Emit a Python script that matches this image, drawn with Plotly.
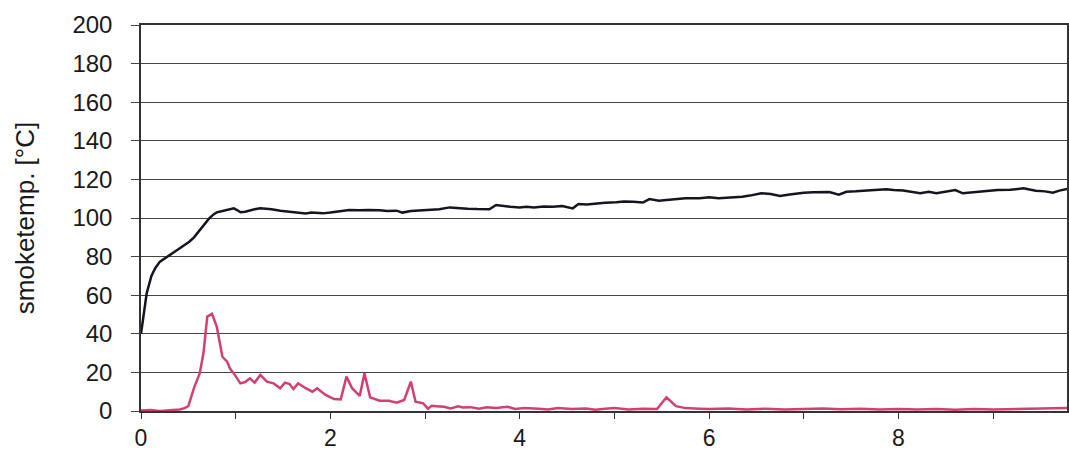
import plotly.graph_objects as go

# time axis values (x) and smoke temperatures for the two curves
black_x = [0, 0.03, 0.06, 0.11, 0.15, 0.2, 0.25, 0.30, 0.35, 0.41,
           0.46, 0.51, 0.56, 0.62, 0.67, 0.72, 0.77, 0.80, 0.85, 0.90,
           0.94, 0.98, 1.02, 1.05, 1.10, 1.15, 1.20, 1.26, 1.32, 1.38,
           1.47, 1.55, 1.62, 1.68, 1.74, 1.80, 1.86, 1.92, 2.00, 2.06,
           2.12, 2.20, 2.30, 2.40, 2.52, 2.60, 2.70, 2.76, 2.85, 2.95,
           3.05, 3.15, 3.26, 3.35, 3.45, 3.55, 3.68, 3.75, 3.81, 3.90,
           4.00, 4.07, 4.15, 4.25, 4.35, 4.45, 4.56, 4.62, 4.71, 4.80,
           4.90, 5.02, 5.10, 5.20, 5.30, 5.37, 5.47, 5.55, 5.65, 5.75,
           5.90, 6.00, 6.10, 6.25, 6.35, 6.43, 6.55, 6.65, 6.75, 6.85,
           7.00, 7.10, 7.27, 7.37, 7.45, 7.55, 7.70, 7.87, 7.95, 8.05,
           8.23, 8.32, 8.40, 8.51, 8.60, 8.68, 8.80, 8.96, 9.05, 9.18,
           9.32, 9.45, 9.55, 9.63, 9.70, 9.78]
black_y = [40, 52, 61, 70, 74, 77.4, 79, 80.8, 82, 84.3,
           86, 87.7, 90, 93.8, 97, 99.8, 102, 102.9, 103.5, 104,
           104.5, 105, 104, 103, 103.2, 104, 104.5, 105, 104.8, 104.5,
           103.8, 103.5, 103, 102.8, 102.4, 102.8, 102.5, 102.4, 102.8, 103.2,
           103.9, 104.1, 104, 104.2, 104, 103.6, 103.8, 102.8, 103.6, 104,
           104.2, 104.5, 105.5, 105, 104.8, 104.6, 104.5, 106.7, 106.2, 105.8,
           105.5, 105.8, 105.5, 106, 105.8, 106.2, 105, 107.2, 107, 107.5,
           107.9, 108.2, 108.5, 108.4, 108, 109.8, 109, 109.3, 109.6, 110.2,
           110.2, 110.7, 110.2, 110.5, 111, 111.6, 112.8, 112.4, 111.4, 112.2,
           113.1, 113.3, 113.5, 112.1, 113.6, 113.8, 114.2, 114.9, 114.5, 114.2,
           112.8, 113.6, 112.8, 113.8, 114.5, 112.8, 113.5, 114.1, 114.5, 114.6,
           115.4, 114.1, 113.8, 113.1, 114.2, 115]

pink_x = [0, 0.1, 0.2, 0.3, 0.41, 0.46, 0.50, 0.56, 0.62, 0.66,
          0.70, 0.75, 0.80, 0.86, 0.91, 0.94, 0.98, 1.05, 1.10, 1.15,
          1.20, 1.26, 1.33, 1.40, 1.47, 1.52, 1.57, 1.61, 1.66, 1.74,
          1.81, 1.86, 1.95, 2.04, 2.11, 2.17, 2.23, 2.31, 2.36, 2.42,
          2.52, 2.62, 2.70, 2.78, 2.85, 2.90, 2.98, 3.03, 3.07, 3.12,
          3.2, 3.27, 3.35, 3.40, 3.48, 3.57, 3.65, 3.75, 3.87, 3.95,
          4.05, 4.2, 4.3, 4.4, 4.55, 4.7, 4.8, 4.9, 5.0, 5.15,
          5.3, 5.45, 5.55, 5.65, 5.75, 5.9, 6.0, 6.2, 6.4, 6.6,
          6.8, 7.0, 7.2, 7.4, 7.6, 7.8, 8.0, 8.2, 8.4, 8.6,
          8.8, 9.0, 9.2, 9.4, 9.6, 9.78]
pink_y = [0.3, 0.5, 0, 0.3, 0.8, 1.5, 2.5, 12, 19.5, 30,
          48.9, 50.3, 43.7, 28.1, 25.6, 22, 19.5, 14.3, 15, 16.9,
          14.7, 18.7, 15.2, 14.3, 11.8, 14.7, 14, 11.4, 14.3, 11.8,
          10, 11.8, 8.3, 6.2, 6, 17.8, 11.8, 7.8, 19.5, 7.1,
          5.3, 5.3, 4.3, 5.7, 15.2, 4.8, 4, 1.2, 2.7, 2.5,
          2.2, 1.3, 2.5, 1.8, 2.0, 1.2, 1.9, 1.5, 2.2, 1.0,
          1.5, 1.2, 0.8, 1.5, 1.0, 1.3, 0.7, 1.2, 1.5, 0.8,
          1.2, 1.0, 7.1, 2.5, 1.5, 1.2, 1.0, 1.3, 0.8, 1.2,
          0.8, 1.0, 1.3, 0.9, 1.2, 0.8, 1.0, 0.8, 1.1, 0.7,
          1.0, 0.8, 1.0, 0.9, 1.2, 1.5]

x_tickvals = [0, 1, 2, 3, 4, 5, 6, 7, 8, 9]
x_ticktext = ["0", "", "2", "", "4", "", "6", "", "8", ""]
y_tickvals = [0, 20, 40, 60, 80, 100, 120, 140, 160, 180, 200]

fig = go.Figure()
fig.add_trace(go.Scatter(x=pink_x, y=pink_y, mode="lines",
                         line=dict(color="#d43f73", width=2.5), showlegend=False))
fig.add_trace(go.Scatter(x=black_x, y=black_y, mode="lines",
                         line=dict(color="#15151f", width=2.5), showlegend=False))

font = dict(family="Liberation Sans, Arial, sans-serif", size=24, color="#1a1a1a")
xfont = dict(family="Liberation Sans, Arial, sans-serif", size=23, color="#1a1a1a")
title_font = dict(family="Liberation Sans, Arial, sans-serif", size=26, color="#1a1a1a")

fig.update_layout(
    width=1069, height=451,
    margin=dict(l=141, r=2, t=25, b=40, autoexpand=False),
    paper_bgcolor="white", plot_bgcolor="white",
    font=font,
    xaxis=dict(range=[0, 9.78], tickvals=x_tickvals, ticktext=x_ticktext,
               ticks="outside", ticklen=6, tickcolor="#333", tickwidth=1.2,
               showgrid=False, zeroline=False, automargin=False,
               showline=True, linecolor="#333", linewidth=1.5, mirror=True,
               ticklabelstandoff=0, tickfont=xfont),
    yaxis=dict(range=[0, 200], tickvals=y_tickvals,
               ticks="outside", ticklen=8, tickcolor="#444", tickwidth=1.3,
               showgrid=True, gridcolor="#444", gridwidth=1.3, zeroline=False,
               showline=True, linecolor="#333", linewidth=1.5, mirror=True,
               automargin=False,
               ticklabelstandoff=14, tickfont=font,
               title=dict(text="smoketemp. [°C]", font=title_font, standoff=30)),
)

fig.write_html("out.html")
